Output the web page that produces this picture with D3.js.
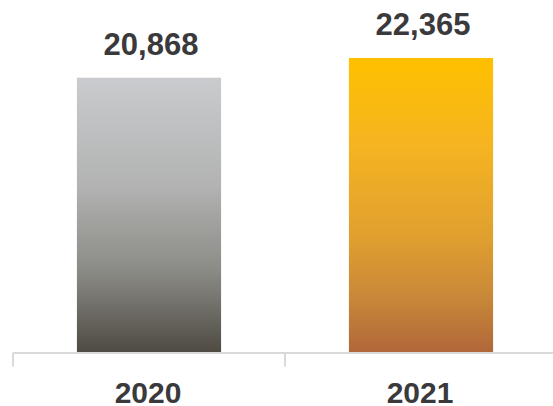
<!DOCTYPE html>
<html>
<head>
<meta charset="utf-8">
<script src="https://cdn.jsdelivr.net/npm/d3@7"></script>
<style>
  html, body { margin: 0; padding: 0; background: #ffffff; }
  svg { display: block; }
  text { font-family: "Liberation Sans", Arial, sans-serif; font-weight: bold; fill: #3a3a3c; }
</style>
</head>
<body>
<svg id="chart" width="553" height="406"></svg>
<script>
// Yearly totals
const years = ["2020", "2021"];
const totals = [20868, 22365];

// Vertical gradient stops (top -> bottom) for each bar
const gradientStops = [
  [["0%", "#cacbce"], ["40%", "#b1b2b1"], ["70%", "#8b8b86"], ["100%", "#4e4a42"]],
  [["0%", "#ffc000"], ["30%", "#f5b421"], ["60%", "#e1a02f"], ["80%", "#ca8938"], ["100%", "#b0673a"]]
];

const svg = d3.select("#chart");
const baseY = 353;

const x = d3.scaleBand()
  .domain(years)
  .range([13, 557])
  .paddingInner(0.47)
  .paddingOuter(0.235);

const y = d3.scaleLinear()
  .domain([0, 26000])
  .range([baseY, 10]);

// gradients
const defs = svg.append("defs");
years.forEach((yr, i) => {
  const g = defs.append("linearGradient")
    .attr("id", "grad" + i)
    .attr("x1", 0).attr("y1", 0).attr("x2", 0).attr("y2", 1);
  gradientStops[i].forEach(s => g.append("stop").attr("offset", s[0]).attr("stop-color", s[1]));
});

// bars
svg.selectAll("rect.bar")
  .data(years)
  .join("rect")
  .attr("class", "bar")
  .attr("x", d => x(d))
  .attr("width", x.bandwidth())
  .attr("y", (d, i) => y(totals[i]))
  .attr("height", (d, i) => baseY - y(totals[i]))
  .attr("fill", (d, i) => `url(#grad${i})`);

// value labels
const fmt = d3.format(",");
svg.selectAll("text.value")
  .data(years)
  .join("text")
  .attr("class", "value")
  .attr("x", d => x(d) + x.bandwidth() / 2 + 2)
  .attr("y", (d, i) => y(totals[i]) - 22.5)
  .attr("text-anchor", "middle")
  .style("font-size", "31px")
  .text((d, i) => fmt(totals[i]));

// category axis
const axis = d3.axisBottom(x).tickSize(0).tickPadding(0).tickFormat(() => "");
const axisG = svg.append("g")
  .attr("transform", `translate(0,${baseY - 0.5})`)
  .call(axis);
axisG.select(".domain").attr("stroke", "#d9d9d9").attr("stroke-width", 2);

// tick marks at category boundaries
const step = x.step();
const boundaries = years.map(d => x(d) - x.paddingInner() * step / 2).concat([x.range()[1]]);
axisG.selectAll("line.sep")
  .data(boundaries)
  .join("line")
  .attr("class", "sep")
  .attr("x1", d => d).attr("x2", d => d)
  .attr("y1", 0).attr("y2", 14)
  .attr("stroke", "#d9d9d9")
  .attr("stroke-width", 2);

// category labels
svg.selectAll("text.cat")
  .data(years)
  .join("text")
  .attr("class", "cat")
  .attr("x", d => x(d) + x.bandwidth() / 2 - 1)
  .attr("y", 403)
  .attr("text-anchor", "middle")
  .style("font-size", "30px")
  .text(d => d);
</script>
</body>
</html>
